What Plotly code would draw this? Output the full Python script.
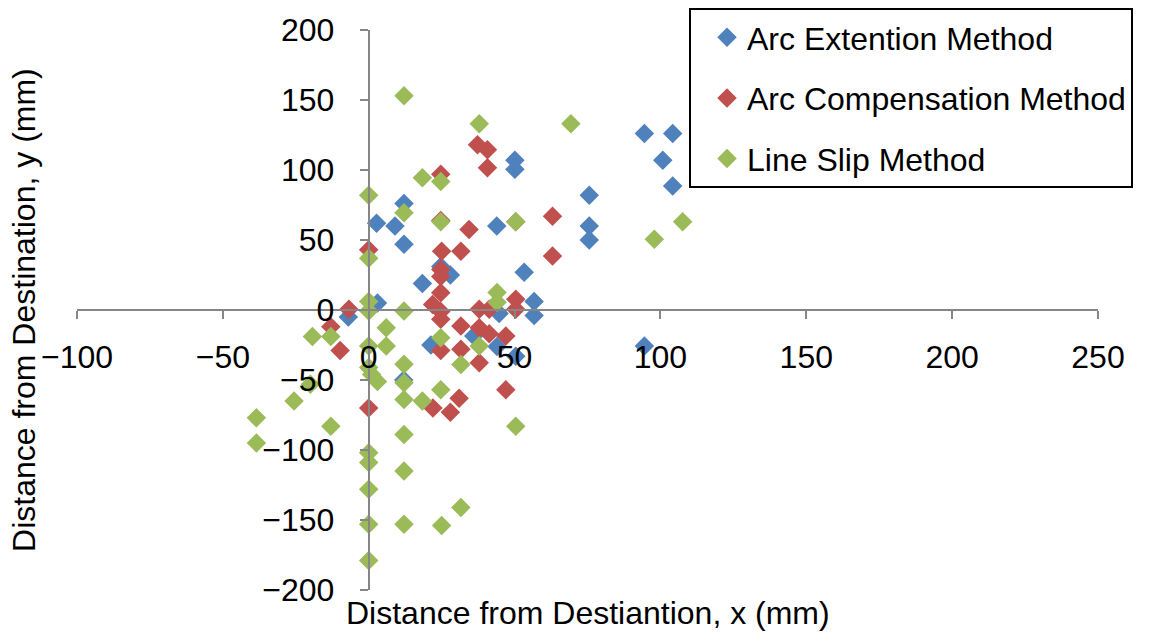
import plotly.graph_objects as go

# ---- data ----
arc_ext_x = [2.7, 9, 12.1, 12.1, 3, -7, 18.4, 24.7, 28, 21.3, 12, 36, 44, 50.4, 44.7,
             56.7, 56.7, 53.3, 43.9, 50.1, 50.1, 75.6, 75.6, 75.6, 94.5, 104.2, 100.8, 104.2, 94.5]
arc_ext_y = [62, 60, 76, 47, 5, -5, 19, 31, 25, -25, -50, -18.6, -26, -33, -2.5,
             -4, 6, 27, 60, 107, 100.5, 82, 60, 50, 126, 126, 107, 88.6, -25.7]

arc_comp_x = [0, 0, -6.8, -13, -9.8, 24.7, 24.7, 25, 31.6, 24.7, 24.7, 24.7, 21.9, 24.7, 24.7,
              31.6, 24.7, 31.6, 22, 28, 31, 37.3, 40.7, 40.7, 34.4, 50.4, 63, 63, 37.9, 41.3,
              50.4, 50.4, 37.9, 41.3, 47, 37.9, 47]
arc_comp_y = [43, -70, 0.5, -12, -29, 97, 64, 42, 42, 29, 24, 12.4, 4, -1, -6.6,
              -11.4, -29, -28, -70, -73, -63, 118, 114.5, 101.6, 57.5, 63, 67, 38.5, 0.5, 0.5,
              7.6, 0.5, -12.6, -17, -18.6, -37.6, -57]

line_slip_x = [12.1, 18.4, 24.7, 0, 12.1, 24.7, 0, 37.9, 69.3, 50.4, 107.6, 97.9, 0, 0, 12.1,
               44, 44, 6, -19.3, -13, 0, 6, 24.7, 37.9, 12.1, 31.6, 0, 1, 3, 12.1,
               -20, -25.6, 12.1, 18.4, 24.7, -38.5, -13, -38.5, 12.1, 0, 0, 12.1, 0, 31.6, 0,
               12.1, 25, 0, 50.4]
line_slip_y = [153, 94.5, 91.7, 82, 69.5, 63, 37, 133, 133, 63, 63, 50.5, 6, -0.7, -0.7,
               12.5, 5.5, -12.6, -19, -19, -25.7, -25.7, -19.8, -25.7, -38.8, -39, -41, -46, -51, -52,
               -53, -65, -64, -65, -57, -77, -83, -95, -89, -102, -109, -115, -128, -141, -153,
               -153, -154, -179, -83]

series_names = ["Arc Extention Method", "Arc Compensation Method", "Line Slip Method"]
series_colors = ["#4F81BD", "#C0504D", "#9BBB59"]

x_ticks = [-100, -50, 0, 50, 100, 150, 200, 250]
y_ticks = [-200, -150, -100, -50, 0, 50, 100, 150, 200]
x_range = [-100, 250]
y_range = [-200, 200]

FONT = "Liberation Sans, Arial, sans-serif"
FS = 32
AXIS_COLOR = "#868686"

# the page body has an 8px margin; size the figure so it fits the 1150x634 window
FIG_W, FIG_H = 1142, 626

fig = go.Figure()
for i, (xs, ys) in enumerate([(arc_ext_x, arc_ext_y), (arc_comp_x, arc_comp_y),
                              (line_slip_x, line_slip_y)]):
    fig.add_trace(go.Scatter(
        x=xs, y=ys, mode="markers", name=series_names[i], legendgroup=series_names[i],
        marker=dict(symbol="diamond", size=15, color=series_colors[i], line=dict(width=0)),
    ))

# position of the zero lines in paper coordinates
x0_pos = (0 - x_range[0]) / (x_range[1] - x_range[0])
y0_pos = (0 - y_range[0]) / (y_range[1] - y_range[0])

common = dict(showgrid=False, zeroline=False, showline=True, linecolor=AXIS_COLOR,
              linewidth=2, tickcolor=AXIS_COLOR, tickwidth=2, ticklen=8, automargin=False)

fig.update_layout(
    width=FIG_W, height=FIG_H,
    margin=dict(l=69, r=52, t=22, b=44, autoexpand=False),
    paper_bgcolor="white", plot_bgcolor="white",
    font=dict(family=FONT, size=FS, color="black"),
    xaxis=dict(range=x_range, tickvals=x_ticks, anchor="free", position=y0_pos,
               ticks="outside", ticklabelstandoff=11, tickfont=dict(size=FS, color="black"),
               **common),
    yaxis=dict(range=y_range, tickvals=y_ticks, anchor="free", position=x0_pos,
               ticks="outside", ticklabelstandoff=19, tickfont=dict(size=FS, color="black"),
               **common),
    xaxis2=dict(range=x_range, tickvals=x_ticks, overlaying="x", anchor="free", position=y0_pos,
                ticks="inside", showticklabels=False, **common),
    yaxis2=dict(range=y_range, tickvals=y_ticks, overlaying="y", anchor="free", position=x0_pos,
                ticks="inside", showticklabels=False, **common),
    legend=dict(xref="container", yref="container", x=(689 - 8) / FIG_W, y=1.0,
                xanchor="left", yanchor="top",
                bordercolor="black", borderwidth=2, bgcolor="white",
                font=dict(size=FS, color="black"), tracegroupgap=16,
                itemwidth=30, indentation=16),
    showlegend=True,
    annotations=[
        dict(text="Distance from Destiantion, x (mm)", xref="paper", yref="paper",
             x=0.5, y=-0.041, xanchor="center", yanchor="middle", showarrow=False,
             font=dict(size=FS, color="black")),
        dict(text="Distance from Destination, y (mm)", xref="paper", yref="paper",
             x=-0.052, y=0.5, xanchor="center", yanchor="middle", showarrow=False,
             textangle=-90, font=dict(size=FS, color="black")),
    ],
)

fig.write_html("out.html")
